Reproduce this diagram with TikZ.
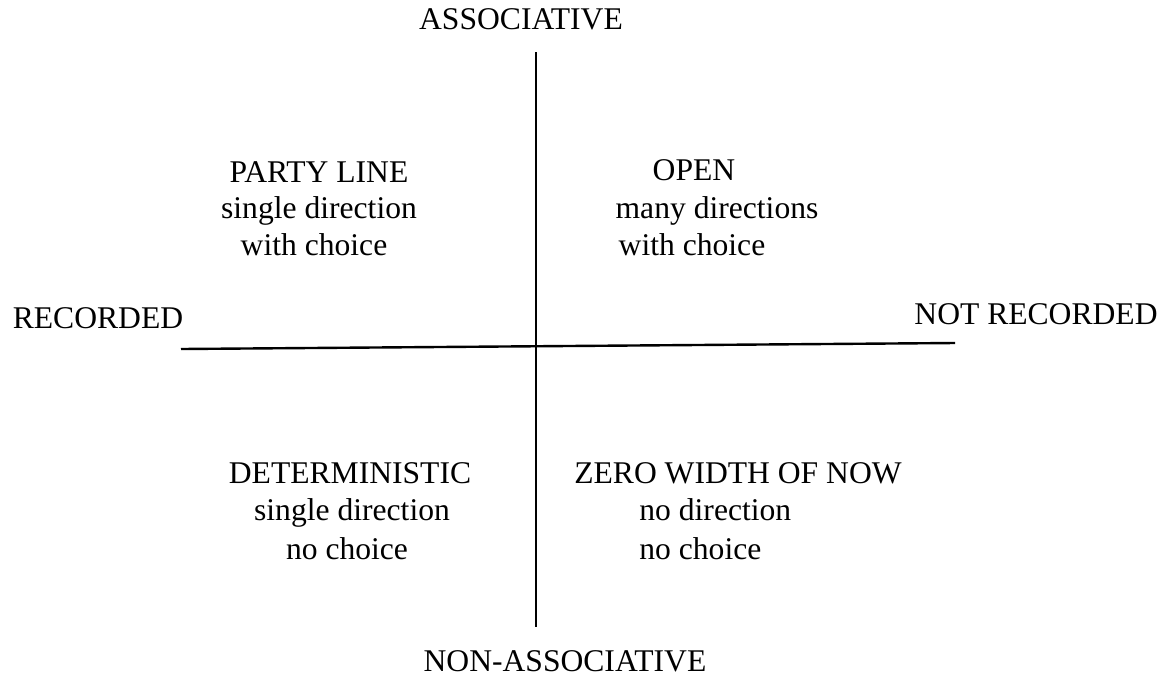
\documentclass[tikz,border=0pt]{standalone}
\usepackage{fontspec}
\setmainfont{Liberation Serif}
\begin{document}
\begin{tikzpicture}[x=0.5pt,y=-0.5pt,
  lbl/.style={inner sep=0pt,anchor=base,font=\fontsize{15.8}{18}\selectfont},
  axisv/.style={line width=0.8pt},
  axish/.style={line width=1.2pt}]
\useasboundingbox (0,0) rectangle (1168,676);
% axes
\coordinate (vtop) at (536,52);
\coordinate (vbot) at (536,627);
\coordinate (hleft) at (181,349);
\coordinate (hright) at (955,343);
\draw[axisv] (vtop) -- (vbot);
\draw[axish] (hleft) -- (hright);
% axis labels
\node[lbl] (assoc) at (521,29) {ASSOCIATIVE};
\node[lbl] (nonassoc) at (565,671) {NON-ASSOCIATIVE};
\node[lbl] (rec) at (98,328) {RECORDED};
\node[lbl] (notrec) at (1036,324) {NOT RECORDED};
% upper left quadrant
\node[lbl] (party1) at (319,182) {PARTY LINE};
\node[lbl] (party2) at (319,218) {single direction};
\node[lbl] (party3) at (314,255) {with choice};
% upper right quadrant
\node[lbl] (open1) at (694,180) {OPEN};
\node[lbl] (open2) at (717,218) {many directions};
\node[lbl] (open3) at (692,255) {with choice};
% lower left quadrant
\node[lbl] (det1) at (350,483) {DETERMINISTIC};
\node[lbl] (det2) at (352,520) {single direction};
\node[lbl] (det3) at (347,559) {no choice};
% lower right quadrant
\node[lbl] (zero1) at (738,483) {ZERO WIDTH OF NOW};
\node[lbl,anchor=base west] (zero2) at (639,520) {no direction};
\node[lbl,anchor=base west] (zero3) at (639,559) {no choice};
\end{tikzpicture}
\end{document}
